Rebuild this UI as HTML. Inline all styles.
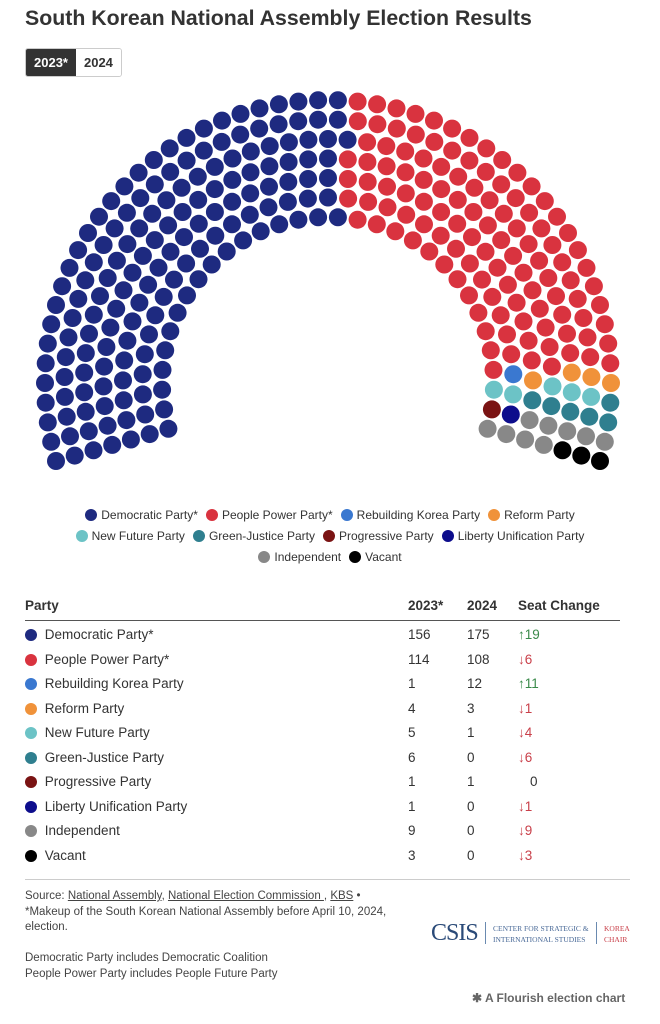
<!DOCTYPE html>
<html><head><meta charset="utf-8">
<style>
body{margin:0;background:#fff;font-family:"Liberation Sans",sans-serif;color:#333;}
.wrap{position:relative;width:660px;height:1024px;overflow:hidden;background:#fff}
h1{position:absolute;left:25px;top:6px;margin:0;font-size:21.3px;font-weight:bold;color:#333;letter-spacing:0}
.btns{position:absolute;left:25px;top:48px;display:flex;border:1px solid #ccc;border-radius:3px;overflow:hidden}
.btns div{font-size:13px;font-weight:bold;padding:5px 8px;height:17px;line-height:17px}
.b1{background:#333;color:#fff}.b2{background:#fff;color:#333}
.legend{position:absolute;left:0;width:660px;text-align:center;font-size:12px;color:#333}
.legend span{display:inline-block;margin:0 4px;white-space:nowrap}
.legend i,.t i{display:inline-block;width:12px;height:12px;border-radius:50%;vertical-align:-2px;margin-right:4px}
.t{position:absolute;left:25px;width:605px;font-size:13.5px}
.row{position:absolute;left:0;width:605px;height:20px}
.row div{position:absolute;top:0}
.up{color:#3a8a4a}.dn{color:#c9404a}
.foot{position:absolute;left:25px;font-size:11.5px;color:#444;line-height:15.5px}
.foot u{text-decoration:underline}
</style></head><body><div class="wrap">
<h1>South Korean National Assembly Election Results</h1>
<div class="btns"><div class="b1">2023*</div><div class="b2">2024</div></div>
<svg id="p" width="660" height="480" style="position:absolute;left:0;top:0"></svg>
<div class="legend" style="top:508px">
<span><i style="background:#1e2a80"></i>Democratic Party*</span><span><i style="background:#d9333f"></i>People Power Party*</span><span><i style="background:#3a78d0"></i>Rebuilding Korea Party</span><span><i style="background:#f0923a"></i>Reform Party</span></div>
<div class="legend" style="top:529px">
<span><i style="background:#6cc3c6"></i>New Future Party</span><span><i style="background:#2f7f8f"></i>Green-Justice Party</span><span><i style="background:#7a1313"></i>Progressive Party</span><span><i style="background:#0d0d8c"></i>Liberty Unification Party</span></div>
<div class="legend" style="top:550px">
<span><i style="background:#888"></i>Independent</span><span><i style="background:#000"></i>Vacant</span></div>
<div class="t" style="top:598px;height:290px">
<div class="row" style="top:0;font-weight:bold"><div style="left:0">Party</div><div style="left:383px">2023*</div><div style="left:442px">2024</div><div style="left:493px">Seat Change</div></div>
<div style="position:absolute;top:22px;left:0;width:595px;border-top:1px solid #555"></div>
<div id="rows"></div>
<div style="position:absolute;top:281px;left:0;width:605px;border-top:1px solid #ccc"></div>
</div>
<div class="foot" style="top:889px">Source: <u>National Assembly</u>, <u>National Election Commission </u>, <u>KBS</u> •<br>*Makeup of the South Korean National Assembly before April 10, 2024,<br>election.<br><br>Democratic Party includes Democratic Coalition<br>People Power Party includes People Future Party</div>
<div style="position:absolute;left:431px;top:920px;font-family:'Liberation Serif',serif;font-size:24px;color:#2a4a78;letter-spacing:-1px">CSIS</div>
<div style="position:absolute;left:485px;top:922px;height:22px;border-left:1px solid #6a8ab0"></div>
<div style="position:absolute;left:493px;top:923px;font-family:'Liberation Serif',serif;font-size:7.5px;color:#4a6a98;line-height:11px">CENTER FOR STRATEGIC &amp;<br>INTERNATIONAL STUDIES</div>
<div style="position:absolute;left:596px;top:922px;height:22px;border-left:1px solid #6a8ab0"></div>
<div style="position:absolute;left:604px;top:923px;font-family:'Liberation Serif',serif;font-size:7.5px;color:#c9404a;line-height:11px">KOREA<br>CHAIR</div>
<div style="position:absolute;left:472px;top:991px;font-size:12px;font-weight:bold;color:#666">✱ A Flourish election chart</div>
</div>
<script>
var parties=[["#1e2a80",156],["#d9333f",114],["#3a78d0",1],["#f0923a",4],["#6cc3c6",5],["#2f7f8f",6],["#7a1313",1],["#0d0d8c",1],["#888",9],["#000",3]];
var cx=328,cy=383,radii=[],R=7,r0=166,r1=283;
for(var i=0;i<R;i++)radii.push(r0+(r1-r0)*i/(R-1));
var sum=radii.reduce(function(a,b){return a+b},0),ns=[],tot=0;
for(i=0;i<R;i++){ns.push(Math.round(300*radii[i]/sum));tot+=ns[i];}
var k=R-1;while(tot<300){ns[k]++;tot++;k--;if(k<0)k=R-1;}k=0;while(tot>300){ns[k]--;tot--;k++;}
var a0=196*Math.PI/180,a1=-16*Math.PI/180,seats=[];
for(i=0;i<R;i++){for(var j=0;j<ns[i];j++){var a=a0+(a1-a0)*j/(ns[i]-1);seats.push([Math.round(a*1e6)/1e6,radii[i]]);}}
seats.sort(function(p,q){return q[0]-p[0]||p[1]-q[1]});
var s="",idx=0;
parties.forEach(function(p){for(var n=0;n<p[1];n++){var st=seats[idx++];var x=cx+st[1]*Math.cos(st[0]),y=cy-st[1]*Math.sin(st[0]);s+='<circle cx="'+x.toFixed(1)+'" cy="'+y.toFixed(1)+'" r="9" fill="'+p[0]+'"/>';}});
document.getElementById('p').innerHTML=s;
var rows=[["#1e2a80","Democratic Party*",156,175,"↑19","up"],["#d9333f","People Power Party*",114,108,"↓6","dn"],["#3a78d0","Rebuilding Korea Party",1,12,"↑11","up"],["#f0923a","Reform Party",4,3,"↓1","dn"],["#6cc3c6","New Future Party",5,1,"↓4","dn"],["#2f7f8f","Green-Justice Party",6,0,"↓6","dn"],["#7a1313","Progressive Party",1,1,"0",""],["#0d0d8c","Liberty Unification Party",1,0,"↓1","dn"],["#888","Independent",9,0,"↓9","dn"],["#000","Vacant",3,0,"↓3","dn"]];
var h="";rows.forEach(function(r,i){h+='<div class="row" style="top:'+(29+i*24.5)+'px"><div style="left:0"><i style="background:'+r[0]+'"></i> '+r[1]+'</div><div style="left:383px">'+r[2]+'</div><div style="left:442px">'+r[3]+'</div><div class="'+r[5]+'" style="left:'+(r[4]=="0"?505:493)+'px">'+r[4]+'</div></div>';});
document.getElementById('rows').innerHTML=h;
</script>
</body></html>
